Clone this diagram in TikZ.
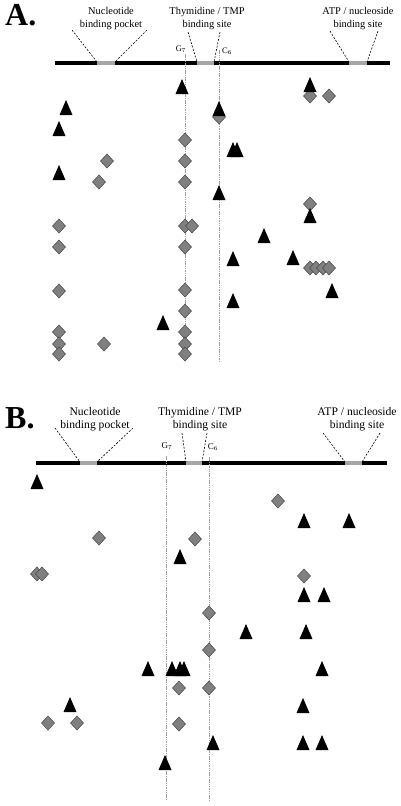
\documentclass[tikz,border=0pt]{standalone}
\usepackage{fontspec}
\setmainfont{Liberation Serif}
\usetikzlibrary{patterns}
\begin{document}
\begin{tikzpicture}[x=1pt,y=-1pt,
  labA/.style={align=center, inner sep=0, anchor=north, font=\fontsize{10.4}{13}\selectfont},
  labB/.style={align=center, inner sep=0, anchor=north, font=\fontsize{11.6}{13}\selectfont},
  glabA/.style={inner sep=0, font=\fontsize{8.5}{9}\selectfont},
  glabB/.style={inner sep=0, font=\fontsize{9}{9}\selectfont},
  panel/.style={inner sep=0, anchor=base west, font=\fontsize{32}{34}\selectfont\bfseries},
  mainline/.style={line width=3.5pt},
  guide/.style={dashed, dash pattern=on 2pt off 1.5pt, line width=0.6pt},
  vline/.style={gray!75, dash pattern=on 1.5pt off 0.8pt, line width=0.7pt},
  hatch/.style={fill=black!35},
  dia/.style={fill=black!50, draw=black!72, line width=0.5pt},
  tri/.pic={\fill[black] (-6.5,7) -- (6.5,7) -- (0,-8) -- cycle;},
  dmd/.pic={\path[dia] (0,-7) -- (6.5,0) -- (0,7) -- (-6.5,0) -- cycle;}
]
\useasboundingbox (0,0) rectangle (400,806);

% ================= Panel A =================
\node[panel] (pA) at (5,25) {A.};
\node[labA] (nA) at (111,7) {Nucleotide\\binding pocket};
\node[labA] (tA) at (207,7) {Thymidine / TMP\\binding site};
\node[labA] (aA) at (358,7) {ATP / nucleoside\\binding site};

\draw[mainline] (55,63) -- (390,63);
\path[hatch] (97,61.3) rectangle (115,64.7);
\path[hatch] (197,61.3) rectangle (214,64.7);
\path[hatch] (349,61.3) rectangle (367,64.7);

\coordinate (nAl) at (72,30); \coordinate (nAr) at (147,30);
\coordinate (tAl) at (188,32); \coordinate (tAr) at (220,32);
\coordinate (aAl) at (330,31); \coordinate (aAr) at (378,31);
\draw[guide] (nAl) -- (97,62);
\draw[guide] (nAr) -- (115,62);
\draw[guide] (tAl) -- (197,62);
\draw[guide] (tAr) -- (214,62);
\draw[guide] (aAl) -- (349,62);
\draw[guide] (aAr) -- (367,62);

\node[glabA] (gA) at (181,49) {G$_7$};
\node[glabA] (cA) at (227,51) {C$_6$};
\draw[vline] (185,54) -- (185,362);
\draw[vline] (219,50) -- (219,362);

\foreach \y in {140,161,182,226,247,290,311,332,344,354} \pic at (185,\y) {dmd};
\pic at (192,226) {dmd};
\foreach \y in {226,247,291,332,344,354} \pic at (59,\y) {dmd};
\foreach \x/\y in {107/161,99/182,104/344,310/96,329/96,219/117,310/204,310/268,316/268,323/268,329/268} \pic at (\x,\y) {dmd};

\foreach \x/\y in {182/87,66/108,59/129,59/173,163/323,310/85,219/109,233/150,237/150,219/193,310/216,264/236,233/259,293/258,332/291,233/301} \pic at (\x,\y) {tri};

% ================= Panel B =================
\node[panel] (pB) at (5,428) {B.};
\node[labB] (nB) at (95,407) {Nucleotide\\binding pocket};
\node[labB] (tB) at (200,407) {Thymidine / TMP\\binding site};
\node[labB] (aB) at (357,407) {ATP / nucleoside\\binding site};

\draw[mainline] (36,463) -- (387,463);
\path[hatch] (80,461.3) rectangle (97,464.7);
\path[hatch] (186,461.3) rectangle (202,464.7);
\path[hatch] (345,461.3) rectangle (362,464.7);

\coordinate (nBl) at (55,428); \coordinate (nBr) at (133,428);
\coordinate (tBl) at (182,433); \coordinate (tBr) at (207,433);
\coordinate (aBl) at (323,433); \coordinate (aBr) at (380,433);
\draw[guide] (nBl) -- (80,462);
\draw[guide] (nBr) -- (97,462);
\draw[guide] (tBl) -- (186,462);
\draw[guide] (tBr) -- (202,462);
\draw[guide] (aBl) -- (345,462);
\draw[guide] (aBr) -- (362,462);

\node[glabB] (gB) at (167,446) {G$_7$};
\node[glabB] (cB) at (213,447) {C$_6$};
\draw[vline] (166,456) -- (166,800);
\draw[vline] (209,457) -- (209,800);

\foreach \x/\y in {278/501,195/539,99/538,37/574,42/574,304/576,209/613,209/650,179/688,209/688,48/723,77/723,179/724} \pic at (\x,\y) {dmd};

\foreach \x/\y in {37/482,180/557,148/669,172/669,180/669,184/669,70/705,165/763,304/521,349/521,304/595,324/595,246/632,306/632,322/669,303/706,213/743,303/743,322/743} \pic at (\x,\y) {tri};
\end{tikzpicture}
\end{document}
